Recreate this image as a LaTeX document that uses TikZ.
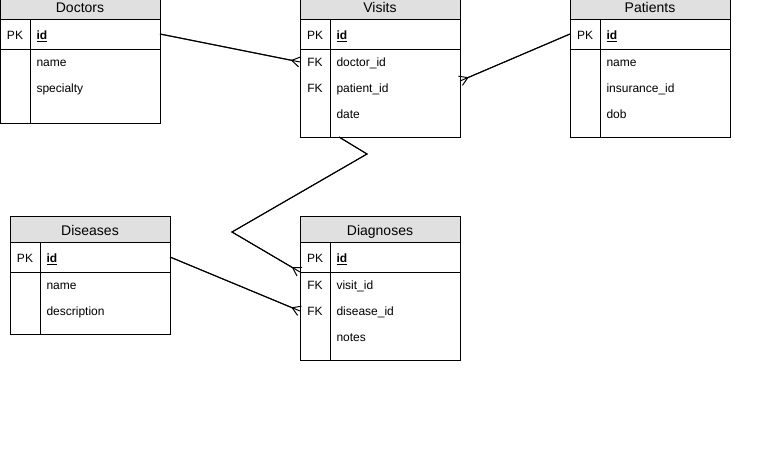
\documentclass[tikz,border=0pt]{standalone}
\usepackage{fontspec}
\setmainfont{Liberation Sans}
\usetikzlibrary{arrows.meta}
\definecolor{headgray}{RGB}{224,224,224}
\begin{document}
\begin{tikzpicture}[x=1pt,y=-1pt,line width=1pt,
	hdr/.style={draw,fill=headgray,minimum width=160pt,minimum height=26pt,
		anchor=north west,inner sep=0pt,outer sep=0pt,text height=12pt,text depth=0pt,
		font=\fontsize{14}{16}\selectfont},
	keyrow/.style={draw,minimum width=160pt,minimum height=30pt,anchor=north west,inner sep=0pt,outer sep=0pt},
	body/.style={draw,minimum width=160pt,anchor=north west,inner sep=0pt,outer sep=0pt},
	key/.style={inner sep=0pt,text height=8.6pt,text depth=0pt,font=\fontsize{12}{14}\selectfont},
	field/.style={anchor=west,inner sep=0pt,text height=8.6pt,text depth=0pt,font=\fontsize{12}{14}\selectfont},
	crow/.style={-{Straight Barb[reversed,length=8pt,width=10pt]},postaction={draw,-}}]

\useasboundingbox (0,0) rectangle (762,453);

% Doctors
\node[hdr] (doctors) at (0,-7) {Doctors};
\node[keyrow] (doctors-pk) at (doctors.south west) {};
\node[body,minimum height=74pt] (doctors-body) at (doctors-pk.south west) {};
\draw (30,19)--(30,123);
\node[key] at (15,35) {PK};
\node[field] (doctors-id) at (36,35) {\underline{\textbf{id}}};
\node[field] (doctors-name) at (36,62) {name};
\node[field] (doctors-spec) at (36,88) {specialty};

% Visits
\node[hdr] (visits) at (300,-7) {Visits};
\node[keyrow] (visits-pk) at (visits.south west) {};
\node[body,minimum height=88pt] (visits-body) at (visits-pk.south west) {};
\draw (330,19)--(330,137);
\node[key] at (315,35) {PK};
\node[key] at (315,62) {FK};
\node[key] at (315,88) {FK};
\node[field] (visits-id) at (336,35) {\underline{\textbf{id}}};
\node[field] (visits-doctor) at (336,62) {doctor\_id};
\node[field] (visits-patient) at (336,88) {patient\_id};
\node[field] (visits-date) at (336,114) {date};

% Patients
\node[hdr] (patients) at (570,-7) {Patients};
\node[keyrow] (patients-pk) at (patients.south west) {};
\node[body,minimum height=88pt] (patients-body) at (patients-pk.south west) {};
\draw (600,19)--(600,137);
\node[key] at (585,35) {PK};
\node[field] (patients-id) at (606,35) {\underline{\textbf{id}}};
\node[field] (patients-name) at (606,62) {name};
\node[field] (patients-ins) at (606,88) {insurance\_id};
\node[field] (patients-dob) at (606,114) {dob};

% Diseases
\node[hdr] (diseases) at (10,216) {Diseases};
\node[keyrow] (diseases-pk) at (diseases.south west) {};
\node[body,minimum height=62pt] (diseases-body) at (diseases-pk.south west) {};
\draw (40,242)--(40,334);
\node[key] at (25,258) {PK};
\node[field] (diseases-id) at (46,258) {\underline{\textbf{id}}};
\node[field] (diseases-name) at (46,285) {name};
\node[field] (diseases-desc) at (46,311) {description};

% Diagnoses
\node[hdr] (diagnoses) at (300,216) {Diagnoses};
\node[keyrow] (diagnoses-pk) at (diagnoses.south west) {};
\node[body,minimum height=88pt] (diagnoses-body) at (diagnoses-pk.south west) {};
\draw (330,242)--(330,360);
\node[key] at (315,258) {PK};
\node[key] at (315,285) {FK};
\node[key] at (315,311) {FK};
\node[field] (diagnoses-id) at (336,258) {\underline{\textbf{id}}};
\node[field] (diagnoses-visit) at (336,285) {visit\_id};
\node[field] (diagnoses-disease) at (336,311) {disease\_id};
\node[field] (diagnoses-notes) at (336,337) {notes};

% Beziehungen
\coordinate (v-pat) at (460,81);
\coordinate (v-out) at (339,137);
\coordinate (bend1) at (367,154);
\coordinate (bend2) at (232,232);

\draw[crow] (doctors-pk.east) -- (visits-doctor -| visits-body.west);
\draw[crow] (patients-pk.west) -- (v-pat);
\draw[crow] (v-out) -- (bend1) -- (bend2) -- (diagnoses-pk.south west);
\draw[crow] (diseases-pk.east) -- (diagnoses-disease -| diagnoses-body.west);

\end{tikzpicture}
\end{document}
